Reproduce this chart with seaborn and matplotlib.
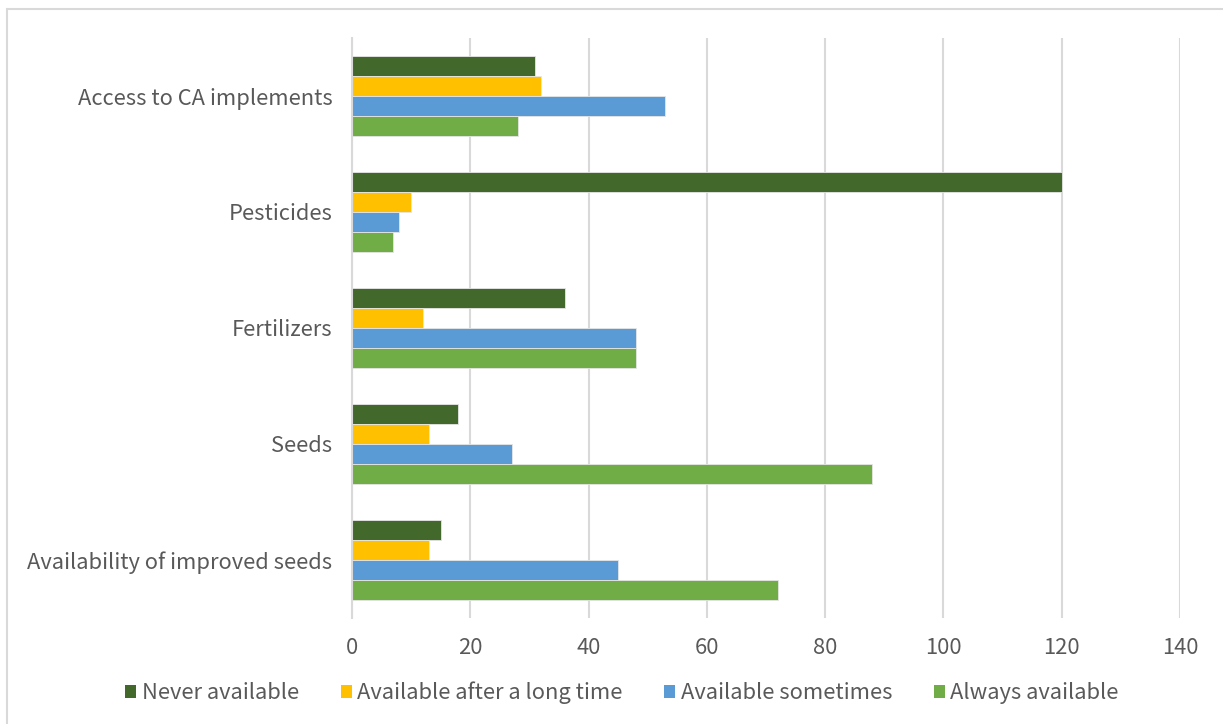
import matplotlib
matplotlib.use("Agg")
import matplotlib.pyplot as plt
import seaborn as sns
import pandas as pd
from matplotlib.patches import Rectangle, Patch

categories = [
    "Access to CA implements",
    "Pesticides",
    "Fertilizers",
    "Seeds",
    "Availability of improved seeds",
]
series = [
    "Never available",
    "Available after a long time",
    "Available sometimes",
    "Always available",
]
never_available = [31, 120, 36, 18, 15]
after_long_time = [32, 10, 12, 13, 13]
sometimes = [53, 8, 48, 27, 45]
always_available = [28, 7, 48, 88, 72]
colors = ["#43682B", "#FFC000", "#5B9BD5", "#70AD47"]
x_ticks = [0, 20, 40, 60, 80, 100, 120, 140]

rows = []
for name, vals in zip(series, [never_available, after_long_time, sometimes, always_available]):
    for cat, v in zip(categories, vals):
        rows.append({"Category": cat, "Series": name, "Value": v})
df = pd.DataFrame(rows)

sns.set_style("white")
plt.rcParams["font.family"] = ["Noto Sans CJK SC", "DejaVu Sans"]
plt.rcParams["font.weight"] = "light"
text_color = "#595959"
grid_color = "#D9D9D9"
fs = 15.8

W, H = 1223, 724
fig = plt.figure(figsize=(W / 100, H / 100), dpi=100)
ax = fig.add_axes([352 / W, 1 - 618 / H, (1180 - 352) / W, (618 - 38) / H])

sns.barplot(
    data=df, y="Category", x="Value", hue="Series",
    order=categories, hue_order=series, palette=colors,
    orient="h", width=0.69, ax=ax, legend=False,
    edgecolor="#E6E6E6", linewidth=0.6, saturation=1,
)

ax.set_xlim(0, 140)
ax.set_xticks(x_ticks)
ax.set_xlabel("")
ax.set_ylabel("")
ax.set_axisbelow(True)
ax.grid(axis="x", color=grid_color, linewidth=1.5)
for s in ["top", "right", "bottom"]:
    ax.spines[s].set_visible(False)
ax.spines["left"].set_color(grid_color)
ax.spines["left"].set_linewidth(1.5)
ax.tick_params(axis="both", length=0, colors=text_color, labelsize=fs)
ax.tick_params(axis="x", pad=14)
ax.tick_params(axis="y", pad=14)
for lbl in ax.get_xticklabels() + ax.get_yticklabels():
    lbl.set_color(text_color)
    lbl.set_fontweight("light")

handles = [Patch(facecolor=c, edgecolor="none") for c in colors]
leg = fig.legend(
    handles, series, loc="center", bbox_to_anchor=(622 / W, 1 - 693 / H),
    ncol=4, frameon=False, fontsize=fs, labelcolor=text_color,
    handlelength=0.5, handleheight=0.5, handletextpad=0.25, columnspacing=1.9,
)
for t in leg.get_texts():
    t.set_fontweight("light")

# chart-area border
fig.patches.append(Rectangle((7 / W, -0.05), 1.2, 1 - 9 / H + 0.05,
                             transform=fig.transFigure, fill=False,
                             edgecolor="#D9D9D9", linewidth=1.5))

fig.savefig("out.png", dpi=100, facecolor="white")
